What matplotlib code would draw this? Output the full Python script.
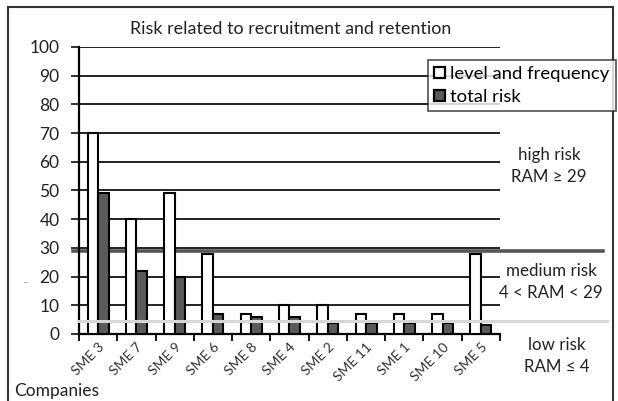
import matplotlib
matplotlib.use("Agg")
import matplotlib.pyplot as plt
from matplotlib.patches import Rectangle, Patch
import numpy as np

plt.rcParams["font.family"] = ["Lato", "DejaVu Sans"]

companies = ["SME 3", "SME 7", "SME 9", "SME 6", "SME 8", "SME 4",
             "SME 2", "SME 11", "SME 1", "SME 10", "SME 5"]
level_frequency = [70, 40, 49, 28, 7, 10, 10, 7, 7, 7, 28]
total_risk = [49, 22, 20, 7, 6, 6, 4, 4, 4, 4, 3]
high_limit = 29
low_limit = 4.5

W, H = 618, 401
fig = plt.figure(figsize=(W / 100, H / 100), dpi=100)
ax = fig.add_axes([79 / W, 1 - 334 / H, 421 / W, 287 / H])

x = np.arange(len(companies))
w = 0.275
ax.bar(x - w / 2, level_frequency, w, color="white", edgecolor="black",
       linewidth=1.5, zorder=3, label="level and frequency")
ax.bar(x + w / 2, total_risk, w, color="#5a5a5a", edgecolor="black",
       linewidth=1.5, zorder=3, label="total risk")

ax.set_xlim(-0.5, len(companies) - 0.5)
ax.set_ylim(0, 100)
ax.set_yticks(range(0, 101, 10))
ax.tick_params(axis="y", labelsize=12.5, length=6, width=1.3, direction="out",
               pad=8, colors="#222222")
ax.grid(axis="y", color="#222222", linewidth=1.4, zorder=1)
ax.set_axisbelow(True)

ax.set_xticks(x)
ax.set_xticklabels(companies, rotation=45, ha="right", rotation_mode="anchor",
                   fontsize=10, color="#333333")
ax.set_xticks(np.arange(-0.5, len(companies)), minor=True)
ax.tick_params(axis="x", which="major", length=0, pad=5)
ax.tick_params(axis="x", which="minor", length=5, width=1.3, direction="out")

for side in ["top", "right"]:
    ax.spines[side].set_visible(False)
ax.spines["left"].set_linewidth(1.6)
ax.spines["bottom"].set_linewidth(1.6)

# threshold lines that run past the plot into the label column
ax.axhline(high_limit, xmin=-0.015, xmax=(603 - 79) / 421, color="#555555",
           linewidth=2.6, clip_on=False, zorder=2)
ax.axhline(low_limit, xmin=0, xmax=(607 - 79) / 421, color="#d6d6d6",
           linewidth=2.2, clip_on=False, zorder=4)

handles = [Patch(facecolor="white", edgecolor="black", linewidth=1.6),
           Patch(facecolor="#5a5a5a", edgecolor="black", linewidth=1.6)]
leg = fig.legend(handles, ["level and frequency", "total risk"],
                 loc="upper left", bbox_to_anchor=(428 / W, 1 - 60 / H),
                 frameon=True, fancybox=False, fontsize=13.3,
                 handlelength=0.55, handleheight=0.55, handletextpad=0.3,
                 borderpad=0.35, labelspacing=0.35, borderaxespad=0)
leg.get_frame().set_edgecolor("#222222")
leg.get_frame().set_linewidth(1.2)

fig.text(291 / W, 1 - 29 / H, "Risk related to recruitment and retention",
         ha="center", va="center", fontsize=12.9, color="#222222")
fig.text(549 / W, 1 - 166 / H, "high risk\nRAM \u2265 29", ha="center",
         va="center", fontsize=12.2, color="#222222", linespacing=1.4)
fig.text(551 / W, 1 - 282 / H, "medium risk\n4 < RAM < 29", ha="center",
         va="center", fontsize=12.2, color="#222222", linespacing=1.4)
fig.text(557 / W, 1 - 356 / H, "low risk\nRAM \u2264 4", ha="center",
         va="center", fontsize=12.2, color="#222222", linespacing=1.4)
fig.text(14 / W, 1 - 391 / H, "Companies", ha="left", va="center",
         fontsize=12.5, color="#222222")
fig.text(25 / W, 1 - 283 / H, "\u2013", ha="center", va="center",
         fontsize=7, color="#999999")

fig.patches.append(Rectangle((8 / W, -0.01), 605 / W, 1 - 7 / H + 0.01,
                             transform=fig.transFigure, fill=False,
                             edgecolor="#333333", linewidth=1.5))

fig.savefig("out.png", dpi=100)
